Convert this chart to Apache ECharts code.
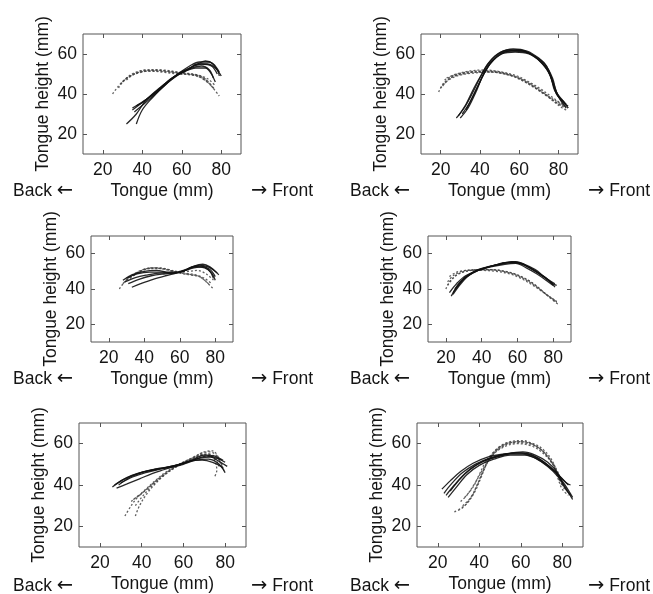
<!DOCTYPE html>
<html>
<head>
<meta charset="utf-8">
<script src="https://cdn.jsdelivr.net/npm/echarts@6.0.0/dist/echarts.min.js"></script>
<style>
html,body{margin:0;padding:0;background:#fff;}
#c{width:653px;height:594px;}
</style>
</head>
<body>
<div id="c"></div>
<script>
// ---- tick labels ----
const xTicks = [20, 40, 60, 80];
const yTicks = [20, 40, 60];
const xRange = [10, 90];
const yRange = [10, 70];
const xName = 'Tongue (mm)';
const yName = 'Tongue height (mm)';
const backWord = 'Back';
const frontWord = 'Front';
const leftArrow = '\u2190';
const rightArrow = '\u2192';

// ---- panel 1 (top-left) ----
const p1Solid = [
  [[32,25],[37,30],[42,37],[50,44],[58,50],[64,54],[69,56],[74,56],[78,52],[79,49]],
  [[37,25],[40,32],[45,38],[52,45],[58,50],[64,53],[70,55],[75,54],[78,50]],
  [[35,33],[40,36],[46,40],[52,45],[59,50],[65,53],[70,54],[74,52],[76,48]],
  [[37,34],[42,37],[48,42],[55,48],[61,51],[67,53],[72,53],[75,50],[77,46]],
  [[36,31],[42,36],[50,43],[57,49],[63,52],[68,55],[73,55],[77,53],[80,49]],
  [[35,32],[41,36.5],[48,42],[56,48.5],[62,52],[67,54.5],[72,56.5],[76,55],[79,51]]
];
const p1Dashed = [
  [[25,40],[28,44],[32,48],[37,51],[44,52],[52,51.5],[60,50.5],[66,50],[71,48],[75,44],[79,39]],
  [[28,43],[31,47],[36,50],[42,51.5],[50,51],[58,50],[65,49.5],[70,48],[74,45],[77,42]],
  [[30,46],[34,49],[40,51],[47,52],[55,51],[62,50],[68,49],[73,46]],
  [[32,47],[36,50],[42,52],[50,52],[58,51],[64,50],[70,49],[74,47],[77,44]],
  [[29,45],[33,48.5],[39,51],[46,51.5],[54,51],[61,50],[67,49.5],[72,47.5],[76,43]]
];

// ---- panel 2 (top-right) ----
const p2Solid = [
  [[28,28],[32,33],[36,40],[40,48],[44,55],[49,60],[55,62],[62,61.5],[68,59],[73,55],[77,48],[79,41],[82,37],[85,33]],
  [[30,28],[34,33],[38,41],[41,48],[45,55],[50,60],[56,61.5],[63,61],[69,58],[74,53],[77,46],[79,40],[83,36]],
  [[31,30],[35,36],[39,44],[42,50],[46,56],[51,60],[58,61],[65,60],[71,56],[75,51],[78,43],[81,37],[84,33]],
  [[33,32],[36,38],[40,46],[43,52],[47,57],[53,61],[60,62],[66,60],[72,55],[76,49],[78,42],[82,36],[85,34]],
  [[29,29],[33,35],[37,43],[41,50],[45,56],[50,60.5],[57,62.5],[64,61.5],[70,58],[74,54],[77,47],[80,39],[84,35]]
];
const p2Dashed = [
  [[19,41],[22,46],[27,49],[33,50.5],[40,51],[48,51],[55,49.5],[62,46.5],[68,43],[74,39],[78,36],[82,33],[84,32]],
  [[21,44],[25,48],[31,50],[38,51],[46,51.5],[54,50],[61,47.5],[67,44],[73,40],[78,37],[83,34]],
  [[22,47],[27,49.5],[34,51],[42,51.5],[50,50.5],[58,48.5],[64,45.5],[70,42],[76,38],[80,35],[84,33]],
  [[20,43],[24,47],[30,49.5],[37,50.5],[45,51],[53,50],[60,48],[66,45],[72,41],[77,37],[82,34]],
  [[23,48],[28,50],[35,51.5],[43,52],[51,51],[59,49],[65,46],[71,42.5],[76,39],[81,35.5],[85,33]]
];

// ---- panel 3 (middle-left) ----
const p3Solid = [
  [[28,45],[33,48],[40,50],[47,50.5],[54,49.5],[60,49.5],[66,52],[71,53.5],[76,52.5],[80,50],[82,48]],
  [[30,46],[36,48.5],[43,49.5],[50,49.5],[57,49],[62,50],[67,52.5],[72,53],[77,51],[80,47]],
  [[33,41],[38,43],[45,45.5],[52,47.5],[58,49],[64,51],[69,52.5],[74,52],[78,49],[80,45]],
  [[29,44],[35,46.5],[42,48],[49,49],[56,49],[62,50.5],[68,53],[73,54],[77,52.5],[81,49]],
  [[31,43],[37,45.5],[44,47.5],[51,48.5],[57,49],[63,50.5],[68,52],[73,52.5],[77,50],[79,46]]
];
const p3Dashed = [
  [[26,40],[29,44],[34,48],[40,51],[47,52],[54,51],[60,49],[66,48],[71,47],[75,44],[79,40]],
  [[28,43],[32,47],[38,50.5],[45,52],[52,51],[58,49.5],[64,48.5],[70,47.5],[74,45],[77,42]],
  [[30,45],[35,48.5],[42,51.5],[50,51.5],[57,50],[63,49],[69,48],[74,46],[78,43]],
  [[32,46],[37,49.5],[44,52],[51,51.5],[58,50],[64,50],[70,50.5],[75,48.5],[79,45]]
];

// ---- panel 4 (middle-right) ----
const p4Solid = [
  [[23,36],[26,41],[30,46],[35,49.5],[42,52],[50,54],[57,55.5],[62,54.5],[68,51.5],[74,47.5],[79,43.5],[81,41]],
  [[24,38],[27,42],[31,46.5],[37,50],[44,52.5],[52,54.5],[58,55],[64,53.5],[70,50],[76,46],[80,42.5]],
  [[25,40],[28,44],[33,48],[39,51],[46,53],[54,55],[60,55],[66,52.5],[72,49],[77,45.5],[81,43]],
  [[22,38],[26,43],[31,47.5],[38,50.5],[45,52.5],[53,54],[59,54.5],[65,52],[71,48.5],[76,45],[80,42]],
  [[24,37],[28,42.5],[32,47],[38,51],[45,53],[52,54.5],[59,55.5],[64,54],[70,51],[75,47],[80,43],[82,42]]
];
const p4Dashed = [
  [[20,40],[22,44],[26,48],[31,50],[38,51],[46,51],[53,50],[60,48],[66,45],[72,40.5],[77,36],[82,32]],
  [[21,44],[24,47.5],[29,50],[36,51],[44,51],[52,50],[59,48],[65,45],[71,41],[76,37],[81,33.5],[83,32]],
  [[22,47],[26,49.5],[32,50.5],[40,50.5],[48,50],[56,48.5],[62,46],[68,42.5],[74,38.5],[79,35],[82,33]],
  [[21,42],[24,46],[28,49],[34,50.5],[42,51],[50,50.5],[57,49],[63,46.5],[69,43],[75,38],[80,34],[83,31]]
];

// ---- panel 5 (bottom-left) ----
const p5Solid = [
  [[26,39],[30,42],[35,44.5],[41,46.5],[48,48],[54,49],[60,50.5],[66,52.5],[71,54],[76,53],[80,51]],
  [[27,40],[32,43],[38,45.5],[44,47],[50,48],[56,49.5],[62,51],[68,53],[73,53.5],[77,51.5],[81,49]],
  [[28,38.5],[33,40.5],[39,43],[45,45.5],[51,47.5],[57,49.5],[63,51.5],[69,52],[74,51],[78,49],[80,46]],
  [[29,40],[34,43.5],[40,46],[46,47.5],[52,48.5],[58,50],[64,52],[70,54.5],[75,54],[79,52]],
  [[30,41],[36,44],[42,46],[48,47.5],[54,48.5],[60,50],[66,52],[72,52.5],[76,51],[79,48]]
];
const p5Dashed = [
  [[32,25],[35,30],[38,34],[42,38],[47,42.5],[52,46.5],[58,50],[64,53],[69,55.5],[73,56],[76,54],[78,50],[80,46]],
  [[37,25],[39,30],[42,35],[46,40],[51,45],[57,49],[63,52],[68,54.5],[72,55],[75,52],[76,47],[75,44]],
  [[36,33],[39,35],[43,38.5],[48,43],[54,47.5],[60,51],[66,53.5],[71,54.5],[75,53],[77,49]],
  [[37,30],[40,34],[45,39.5],[50,44],[56,48.5],[62,51.5],[67,54],[72,55],[76,53],[79,49]],
  [[35,32],[38,34.5],[42,37.5],[47,42],[53,46.5],[59,50.5],[65,53.5],[70,56],[74,56.5],[77,53],[79,48]]
];

// ---- panel 6 (bottom-right) ----
const p6Solid = [
  [[22,38],[26,42],[31,46.5],[37,50.5],[44,53.5],[52,55],[60,55.5],[66,54],[72,50.5],[77,46],[81,40.5],[85,34]],
  [[24,35],[28,40],[33,45.5],[39,50],[46,53],[54,55],[61,55],[67,53],[73,49],[78,44],[82,38],[85,33]],
  [[25,34],[29,39],[34,45],[40,49.5],[47,52.5],[55,54.5],[62,54.5],[68,52.5],[74,48.5],[79,44],[82,41],[84,40]],
  [[26,37],[30,42],[35,47],[42,51.5],[50,54],[58,55.5],[64,55],[70,52],[76,47],[80,43],[83,40]],
  [[23,36],[27,41],[32,46],[38,50],[45,53],[53,55],[61,56],[67,54.5],[73,51],[78,45.5],[81,39],[84,35]]
];
const p6Dashed = [
  [[28,27],[32,29],[36,34],[39,40],[42,47],[45,53],[49,58],[55,61],[61,61.5],[67,59],[72,55],[76,49],[78,43],[80,38],[83,35]],
  [[30,28],[34,31],[38,37],[41,44],[44,51],[48,56.5],[53,60],[60,61],[66,59.5],[71,56],[75,51],[78,45],[80,39]],
  [[32,30],[36,34],[39,40],[42,47],[46,54],[51,58.5],[57,60.5],[64,60],[70,57],[74,52],[77,47],[79,41]],
  [[31,32],[34,35],[38,41],[42,48],[46,54],[51,58],[58,60],[65,59],[70,56],[75,51],[78,46],[80,40]],
  [[33,34],[37,39],[40,45],[43,51],[47,56],[52,59.5],[59,61],[66,60],[71,57],[75,52],[78,45],[81,38]]
];

const panels = [
  {solid: p1Solid, dashed: p1Dashed, box: [83, 34, 158, 120]},
  {solid: p2Solid, dashed: p2Dashed, box: [421, 34, 157, 120]},
  {solid: p3Solid, dashed: p3Dashed, box: [91, 236, 142, 106]},
  {solid: p4Solid, dashed: p4Dashed, box: [428, 236, 143, 106]},
  {solid: p5Solid, dashed: p5Dashed, box: [79, 423, 167, 125]},
  {solid: p6Solid, dashed: p6Dashed, box: [417, 423, 166, 125]}
];
const rowY = [192, 380, 587];
const colBackX = [13, 350];
const colFrontX = [313, 650];

const FONT = 'Liberation Sans, Arial, Helvetica, sans-serif';
const TXT = '#151515';
const FS = 17.5;

const grid = [], xAxis = [], yAxis = [], series = [], graphic = [];
panels.forEach((p, i) => {
  const [l, t, w, h] = p.box;
  grid.push({left: l, top: t, width: w, height: h, show: true,
    borderColor: '#555', borderWidth: 1, backgroundColor: '#fff'});
  const tickStyle = {show: true, inside: true, length: 4, lineStyle: {color: '#555', width: 1}};
  xAxis.push({type: 'value', gridIndex: i, min: xRange[0], max: xRange[1], position: 'bottom',
    axisLine: {show: false}, splitLine: {show: false},
    axisTick: Object.assign({customValues: xTicks}, tickStyle),
    axisLabel: {customValues: xTicks, margin: 7, color: TXT, fontSize: FS, fontFamily: FONT},
    name: xName, nameLocation: 'middle', nameGap: 28,
    nameTextStyle: {color: TXT, fontSize: FS, fontFamily: FONT}});
  xAxis.push({type: 'value', gridIndex: i, min: xRange[0], max: xRange[1], position: 'top',
    axisLine: {show: false}, splitLine: {show: false},
    axisTick: Object.assign({customValues: xTicks}, tickStyle),
    axisLabel: {show: false}});
  yAxis.push({type: 'value', gridIndex: i, min: yRange[0], max: yRange[1], position: 'left',
    axisLine: {show: false}, splitLine: {show: false},
    axisTick: Object.assign({customValues: yTicks}, tickStyle),
    axisLabel: {customValues: yTicks, margin: 6, color: TXT, fontSize: FS, fontFamily: FONT},
    name: yName, nameLocation: 'middle', nameGap: 31, nameRotate: 90,
    nameTextStyle: {color: TXT, fontSize: FS, fontFamily: FONT}});
  yAxis.push({type: 'value', gridIndex: i, min: yRange[0], max: yRange[1], position: 'right',
    axisLine: {show: false}, splitLine: {show: false},
    axisTick: Object.assign({customValues: yTicks}, tickStyle),
    axisLabel: {show: false}});

  p.dashed.forEach(curve => {
    series.push({type: 'line', xAxisIndex: 2 * i, yAxisIndex: 2 * i, data: curve,
      smooth: 0.35, symbol: 'none', silent: true,
      lineStyle: {color: '#444', width: 1.3, type: [2, 2], opacity: 0.85}});
  });
  p.solid.forEach(curve => {
    series.push({type: 'line', xAxisIndex: 2 * i, yAxisIndex: 2 * i, data: curve,
      smooth: 0.35, symbol: 'none', silent: true,
      lineStyle: {color: '#111', width: 1.3, opacity: 0.9}});
  });

  const row = Math.floor(i / 2), col = i % 2;
  const rich = {
    w: {fill: TXT, fontSize: FS, fontFamily: FONT},
    a: {fill: TXT, fontSize: FS + 2, fontFamily: 'DejaVu Sans'}
  };
  graphic.push({type: 'text', left: colBackX[col], top: rowY[row] - 11,
    style: {text: '{w|' + backWord + ' }{a|' + leftArrow + '}', rich: rich}});
  graphic.push({type: 'text', right: 653 - colFrontX[col], top: rowY[row] - 11,
    style: {text: '{a|' + rightArrow + '}{w| ' + frontWord + '}', rich: rich}});
});

const chart = echarts.init(document.getElementById('c'));
chart.setOption({
  animation: false,
  backgroundColor: '#fff',
  grid, xAxis, yAxis, series, graphic
});
</script>
</body>
</html>
